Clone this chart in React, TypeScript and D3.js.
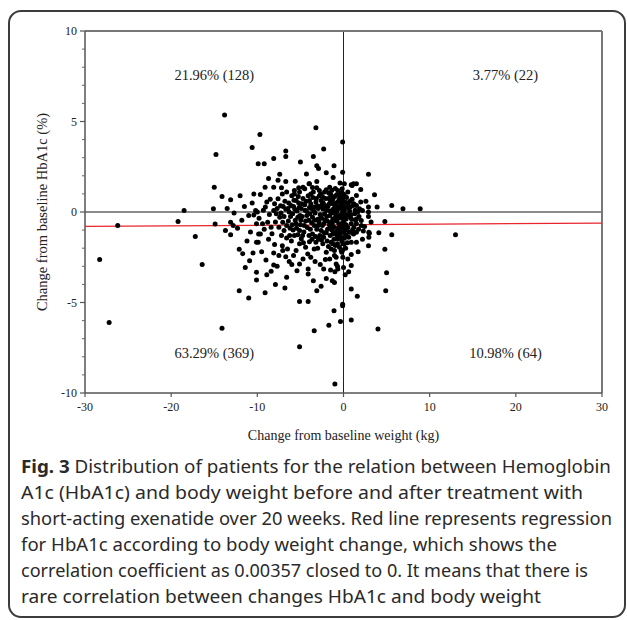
import React from 'react';
import * as d3 from 'd3';

// weight change (kg), HbA1c change (%)
const outerPoints: [number, number][] = [
  [-28.3, -2.63], [-27.2, -6.1], [-26.2, -0.75], [-19.2, -0.53], [-18.5, 0.08], [-17.2, -1.36], [-16.4, -2.9],
  [-13.8, 5.36], [-14.8, 3.18], [-9.7, 4.28], [-3.2, 4.66], [-0.1, 3.87], [-10.6, 3.57], [-6.7, 3.37], [-6.7, 3.07],
  [-9.9, 2.67], [-9.2, 2.67], [-8.1, 2.96], [-5.0, 2.76], [-3.5, 3.07], [-2.3, 3.48], [-3.1, 2.56], [-1.1, 2.56],
  [-2.0, 2.17], [-0.1, 2.19], [2.9, 2.08], [-7.4, 2.08], [-7.6, 1.75], [-6.7, 1.69], [-15.0, 1.37], [-14.1, 0.86],
  [-13.1, 0.68], [-9.65, 0.97], [-9.1, 1.37], [-8.1, 1.37], [-7.2, 1.34], [-5.7, 1.19], [-5.2, 1.34], [-4.5, 1.28],
  [-4.0, 1.56], [-3.1, 1.69], [-3.1, 1.34], [-2.0, 1.23], [-1.5, 1.0], [0.1, 1.56], [1.0, 1.47], [1.5, 1.56],
  [3.6, 0.95], [3.9, 0.27], [5.6, 0.36], [6.9, 0.18], [8.9, 0.18], [-15.1, 0.18], [-12.7, -0.05], [-10.2, 0.08],
  [-14.9, -0.66], [-13.1, -0.56], [-12.8, -0.75], [-13.7, -1.02], [-13.1, -1.25], [-12.1, -2.06], [-10.5, -2.26],
  [-10.1, -1.67], [-9.85, -1.21], [-11.4, -3.06], [-10.1, -3.33], [-10.1, -3.76], [-9.0, -2.65], [-8.4, -3.28],
  [-8.9, -3.46], [-8.1, -2.93], [-8.1, -2.26], [-12.1, -4.35], [-11.0, -4.75], [-9.1, -4.46], [-14.1, -6.42],
  [-7.05, -2.13], [-6.3, -2.74], [-5.1, -2.87], [-5.4, -3.24], [-4.1, -3.15], [-4.1, -3.43], [-3.3, -2.74],
  [-3.1, -4.35], [-5.1, -4.94], [-4.1, -4.94], [-2.3, -3.15], [-2.0, -3.67], [-1.3, -3.8], [-2.1, -2.63],
  [-0.85, -2.5], [-0.7, -3.0], [-0.2, -2.23], [0, -3.06], [0.2, -3.46], [-0.1, -5.09], [-0.1, -5.18], [-1.1, -5.46],
  [-1.7, -6.25], [-0.35, -6.05], [0.9, -4.26], [1.6, -4.66], [0.9, -5.96], [0.9, -2.96], [0.9, -2.35], [0.9, -1.67],
  [2.9, -1.86], [3.0, -1.17], [4.1, -1.15], [4.8, -2.06], [5.0, -3.35], [4.9, -4.35], [5.6, -1.25], [4.8, -0.53],
  [4.0, -6.47], [-3.4, -6.56], [-5.1, -7.45], [-1.0, -9.5], [13.0, -1.25],
];

const corePoints: [number, number][] = [
  [-11.0, -0.19], [-10.4, -0.16], [-10.0, 0], [-10.1, -0.65], [-9.4, -0.65], [-9.65, -1.21], [-9.9, -1.67],
  [-9.07, 0.27], [-8.6, -0.14], [-8.8, -0.56], [-8.4, -0.84], [-8.1, 0.08], [-8.0, 0.45], [-7.6, 0.73], [-7.1, 1.0],
  [-7.4, -0.29], [-7.05, -0.56], [-7.5, -0.84], [-6.9, -1.02], [-6.6, -1.43], [-7.1, -1.86], [-6.5, -2.04],
  [-6.7, -2.47], [-6.3, 0], [-6.1, 0.36], [-5.5, 0.64], [-5.7, 1.0], [-5.1, 1.1], [-4.7, 1.37], [-5.3, -0.29],
  [-5.5, -0.65], [-5.1, -1.02], [-5.7, -1.3], [-4.9, -1.48], [-5.1, -1.76], [-5.5, -2.13], [-4.4, -1.95],
  [-4.15, -2.32], [-3.95, 1.56], [-3.8, 1.0], [-3.95, 0.64], [-3.4, 0.27], [-3.6, -0.29], [-3.4, -0.75],
  [-3.6, -1.21], [-3.2, -1.67], [-3.4, -2.04], [-2.8, 1.19], [-2.6, 0.64], [-2.4, 0.18], [-2.6, -0.29],
  [-2.3, -0.65], [-2.6, -1.02], [-2.3, -1.4], [-2.4, -1.76], [-2.0, -2.23], [-1.6, 1.37], [-1.43, 0.91],
  [-1.24, 0.45], [-1.43, 0], [-1.24, -0.38], [-1.43, -0.84], [-1.24, -1.21], [-1.43, -1.67], [-1.05, -2.13],
  [-0.66, 1.19], [-0.47, 0.73], [-0.66, 0.27], [-0.47, -0.19], [-0.54, -0.65], [-0.47, -1.02], [-0.66, -1.48],
  [-0.47, -1.95], [0, 1.0], [0.23, 0.54], [0.1, 0.08], [0.3, -0.38], [0.1, -0.84], [0.3, -1.3], [0.1, -1.76],
  [1.16, 1.56], [1.5, 0.91], [1.1, 0.36], [1.3, -0.1], [1.5, -0.65], [1.16, -1.21], [1.5, -1.67],
  [0.9, 1.5], [0.78, 0.27], [1.5, 0.36], [1.86, 0.18], [2.2, 0.08], [2.9, 0.27], [2.9, 0], [0.78, -0.29],
  [1.5, -0.38], [2.06, -0.47], [2.9, -0.25], [0.9, -0.65], [2.06, -0.75], [2.44, -0.8], [2.94, -1.12], [1.5, -1.12],
  [2.94, -1.4], [0.78, -1.12], [-0.15, 1.28], [-0.27, 0.82], [-0.08, 0.54], [-0.2, 0.3], [0, 0], [-0.27, -0.29],
  [-0.08, -0.56], [-0.47, -0.84], [0, -1.12], [-0.27, -1.4], [-0.08, -1.76], [-0.27, -2.13], [-0.08, -2.5],
  [-1.05, -2.41], [-0.85, -2.87], [-0.66, -3.15], [-1.24, -1.76], [-1.43, -2.04], [-1.05, -3.89],
];

const densePoints: [number, number][] = [
  [-7.8, -0.1], [-7.3, 0.35], [-6.8, 0.6], [-6.4, -0.5], [-6.2, -0.9], [-6.0, 0.9], [-5.9, -0.1], [-5.8, 0.3],
  [-5.6, -0.45], [-5.4, 0.05], [-5.2, 0.5], [-5.0, -0.7], [-4.9, 0.2], [-4.8, -0.25], [-4.7, 0.75], [-4.6, -1.1],
  [-4.5, 0.4], [-4.4, -0.5], [-4.3, 0.05], [-4.2, -0.85], [-4.1, 0.9], [-4.0, -1.3], [-3.9, -0.1], [-3.8, 0.45],
  [-3.7, -0.6], [-3.5, 1.1], [-3.3, -0.05], [-3.2, 0.55], [-3.1, -0.95], [-3.0, -0.4], [-2.95, 0.2], [-2.9, -1.5],
  [-2.8, 0.9], [-2.7, -0.15], [-2.5, 0.4], [-2.45, -0.75], [-2.2, -0.1], [-2.1, 0.75], [-2.0, -1.15], [-1.9, -0.5],
  [-1.8, 0.3], [-1.75, -1.9], [-1.7, 1.05], [-1.6, -0.2], [-1.55, -1.3], [-1.5, 0.6], [-1.3, -0.65], [-1.2, 0.15],
  [-1.1, -1.5], [-1.0, 0.85], [-0.95, -0.3], [-0.9, 0.5], [-0.85, -1.1], [-0.8, -0.5], [-0.75, 0.05], [-0.7, -1.75],
  [-0.6, 0.95], [-0.4, -1.25], [-0.35, 0.45], [-0.3, -0.7], [-0.2, -1.6], [-0.15, -0.05], [-0.1, 0.75], [0.05, -0.6],
  [0.1, -1.45], [0.15, 0.3], [0.2, -1.0], [0.25, -2.0], [0.35, 0.8], [0.4, -0.15], [0.5, -0.85], [0.55, 0.5],
  [0.6, -1.4], [0.7, 0.05], [0.95, -0.4], [1.0, 0.7], [1.2, -0.85], [1.35, 0.1], [1.8, -0.25], [2.0, 0.55], [2.3, -1.05],
  [-8.5, 0.7], [-8.3, -1.2], [-7.9, -0.55], [-7.7, 0.2], [-7.2, -1.3], [-6.9, -0.25], [-6.7, 0.15], [-6.6, 1.1],
  [-6.05, -1.6], [-5.95, -0.7], [-5.75, 0.65], [-5.3, -1.25], [-5.15, 0.25], [-4.95, -0.45], [-4.65, -1.7],
  [-4.35, 0.6], [-4.25, -0.2], [-3.85, -0.95], [-3.75, 0.2], [-3.55, 0.8], [-3.25, -1.35], [-3.05, 0.35],
  [-2.85, -0.55], [-2.65, 1.0], [-2.55, -1.55], [-2.35, 0.5], [-2.15, -0.45], [-1.95, 0.1], [-1.85, -0.95],
  [-1.65, 0.45], [-1.45, -0.55], [-1.35, 1.2], [-1.15, -0.05], [-1.05, -0.85], [-0.95, 0.3], [-0.75, -1.3],
  [-0.6, 0.6], [-0.55, -0.35], [-0.25, 1.05], [-0.05, -0.35],
  [-11.8, -0.45], [-11.5, 0.3], [-10.8, -1.1], [-10.6, 0.5], [-9.8, -0.35], [-9.3, 0.1], [-9.2, -0.95], [-8.9, 0.55],
  [-8.7, -1.5], [-12.3, -0.9], [-11.2, -1.6], [-10.4, 1.0], [-12.0, 0.9], [-13.5, 0.2], [-11.7, -2.3], [-9.5, -2.2],
  [-8.0, -1.8], [-7.5, -2.4], [-6.0, -2.9], [-5.8, -2.4], [-4.7, -2.6], [-3.8, -2.5], [-3.0, -2.0], [-2.7, -2.9],
  [-1.6, -2.6], [-1.5, -3.2], [-1.0, -3.3], [0.5, -2.6], [0.6, -3.3], [1.7, -2.2], [2.2, -1.5], [2.6, 0.6],
  [3.2, -0.55], [-2.9, 2.4], [-4.3, 2.1], [-5.6, 1.7], [-8.7, 1.85], [-1.2, 1.9], [-0.4, 1.6], [0.5, 1.1],
  [2.0, 1.25], [-10.9, -2.7], [-7.7, -3.0], [-6.6, -3.6], [-3.5, -3.8], [-2.6, -4.1], [-6.8, -4.2], [-7.9, -4.0],
  // thickest part of the cloud
  [-6.35, 0.5], [-6.15, -0.25], [-5.85, -1.0], [-5.65, 0.15], [-5.45, -0.9], [-5.25, 0.85], [-5.05, -0.2],
  [-4.85, 0.45], [-4.55, -0.75], [-4.45, 0.1], [-4.05, -0.45], [-3.95, 0.25], [-3.65, -1.5], [-3.45, 0.05],
  [-3.35, -0.45], [-3.15, 0.75], [-2.95, -0.75], [-2.75, 0.3], [-2.55, -0.35], [-2.45, 0.85], [-2.25, -1.15],
  [-2.05, 0.35], [-1.95, -0.25], [-1.75, 0.75], [-1.65, -0.7], [-1.55, 0.05], [-1.35, -1.0], [-1.25, 0.7],
  [-1.15, -0.45], [-1.05, 0.4], [-0.85, -0.15], [-0.8, 0.95], [-0.65, -0.9], [-0.5, 0.2], [-0.35, -1.1],
  [-0.3, 0.65], [-0.15, -0.85], [-0.1, 0.15], [0.05, -0.25], [0.2, 0.85], [0.3, -0.7], [0.45, 0.25],
  [0.6, -1.1], [0.75, 0.6], [0.85, -0.15], [1.05, -1.0], [1.2, 0.45], [1.4, -0.45], [1.65, 0.0], [1.75, -0.95],
  [-6.6, -0.75], [-6.45, 0.2], [-7.0, 0.3], [-7.25, -0.05], [-6.25, -1.3], [-4.75, -1.3], [-3.95, -1.65],
  [-2.75, -1.3], [-1.9, -1.6], [-0.95, -1.85], [-0.1, -2.1], [0.45, -1.7], [-3.6, 1.35], [-2.2, 1.1], [-0.95, 1.3],
];

const X_TICKS = [-30, -20, -10, 0, 10, 20, 30];
const Y_TICKS = [-10, -5, 0, 5, 10];
const Y_MINOR = [-9, -8, -7, -6, -4, -3, -2, -1, 1, 2, 3, 4, 6, 7, 8, 9];

const quadLabels = ['21.96% (128)', '3.77% (22)', '63.29% (369)', '10.98% (64)'];
const quadX = [-15, 18.8, -15, 18.8];
const quadY = [7.6, 7.6, -7.8, -7.8];

// regression: HbA1c = a + b * weight
const REG_A = -0.705;
const REG_B = 0.00315;

const captionLines = [
  ' Distribution of patients for the relation between Hemoglobin',
  'A1c (HbA1c) and body weight before and after treatment with',
  'short-acting exenatide over 20 weeks. Red line represents regression',
  'for HbA1c according to body weight change, which shows the',
  'correlation coefficient as 0.00357 closed to 0. It means that there is',
  'rare correlation between changes HbA1c and body weight',
];
const captionWidths = [590, 562, 591, 536, 567, 520];

export default function App() {
  const x = d3.scaleLinear().domain([-30, 30]).range([85, 602]);
  const y = d3.scaleLinear().domain([-10, 10]).range([393, 31]);
  const regLine = d3.line<number>().x(d => x(d)).y(d => y(REG_A + REG_B * d));
  const allPoints = [...outerPoints, ...corePoints, ...densePoints];
  const serif = '"Liberation Serif", "Times New Roman", serif';

  return (
    <svg width={627} height={620} style={{ position: 'absolute', left: 0, top: 0, background: '#fff' }}>
      <rect x={9} y={11} width={616} height={606} rx={12} fill="none" stroke="#3c3c3c" strokeWidth={2} />

      {/* quadrant lines */}
      <line x1={x(-30)} x2={x(30)} y1={y(0)} y2={y(0)} stroke="#666" strokeWidth={1.5} />
      <line x1={x(0)} x2={x(0)} y1={y(10)} y2={y(-10)} stroke="#222" strokeWidth={1} />

      {/* frame */}
      <line x1={x(-30)} x2={x(30)} y1={y(10)} y2={y(10)} stroke="#777" strokeWidth={2} />
      <line x1={x(30)} x2={x(30)} y1={y(10)} y2={y(-10)} stroke="#777" strokeWidth={2} />
      <line x1={x(-30)} x2={x(-30)} y1={y(10)} y2={y(-10)} stroke="#555" strokeWidth={1.5} />
      <line x1={x(-30)} x2={x(30)} y1={y(-10)} y2={y(-10)} stroke="#555" strokeWidth={1.5} />

      {Y_TICKS.map(t => (
        <g key={'yt' + t}>
          <line x1={x(-30) - 5} x2={x(-30)} y1={y(t)} y2={y(t)} stroke="#555" strokeWidth={1.2} />
          <text x={x(-30) - 8} y={y(t)} dy="0.35em" textAnchor="end" fontFamily={serif} fontSize={12} fill="#222">
            {t}
          </text>
        </g>
      ))}
      {Y_MINOR.map(t => (
        <line key={'ym' + t} x1={x(-30) - 3} x2={x(-30)} y1={y(t)} y2={y(t)} stroke="#666" strokeWidth={1} />
      ))}
      {X_TICKS.map(t => (
        <g key={'xt' + t}>
          <line x1={x(t)} x2={x(t)} y1={y(-10)} y2={y(-10) + 4} stroke="#555" strokeWidth={1.2} />
          <text x={x(t)} y={y(-10) + 18} textAnchor="middle" fontFamily={serif} fontSize={12} fill="#222">
            {t}
          </text>
        </g>
      ))}

      <path d={regLine([-30, 30]) || ''} stroke="#e8262c" strokeWidth={1.3} fill="none" />

      {allPoints.map((p, i) => (
        <circle key={i} cx={x(p[0])} cy={y(p[1])} r={2.5} fill="#000" />
      ))}

      {quadLabels.map((l, i) => (
        <text key={l} x={x(quadX[i])} y={y(quadY[i])} dy="0.35em" textAnchor="middle" fontFamily={serif}
          fontSize={14.5} fill="#222">
          {l}
        </text>
      ))}

      <text x={x(0)} y={440} textAnchor="middle" fontFamily={serif} fontSize={14} fill="#222">
        Change from baseline weight (kg)
      </text>
      <text transform={`translate(47,${y(0)}) rotate(-90)`} textAnchor="middle" fontFamily={serif} fontSize={14.5}
        fill="#222">
        Change from baseline HbA1c (%)
      </text>

      {captionLines.map((l, i) => (
        <text key={i} x={21} y={473 + i * 26} fontFamily='"Noto Sans", sans-serif' fontSize={17.5} fill="#2a2a2a"
          textLength={captionWidths[i]} lengthAdjust="spacingAndGlyphs">
          {i === 0 && <tspan fontWeight="bold">Fig. 3</tspan>}
          {l}
        </text>
      ))}
    </svg>
  );
}
